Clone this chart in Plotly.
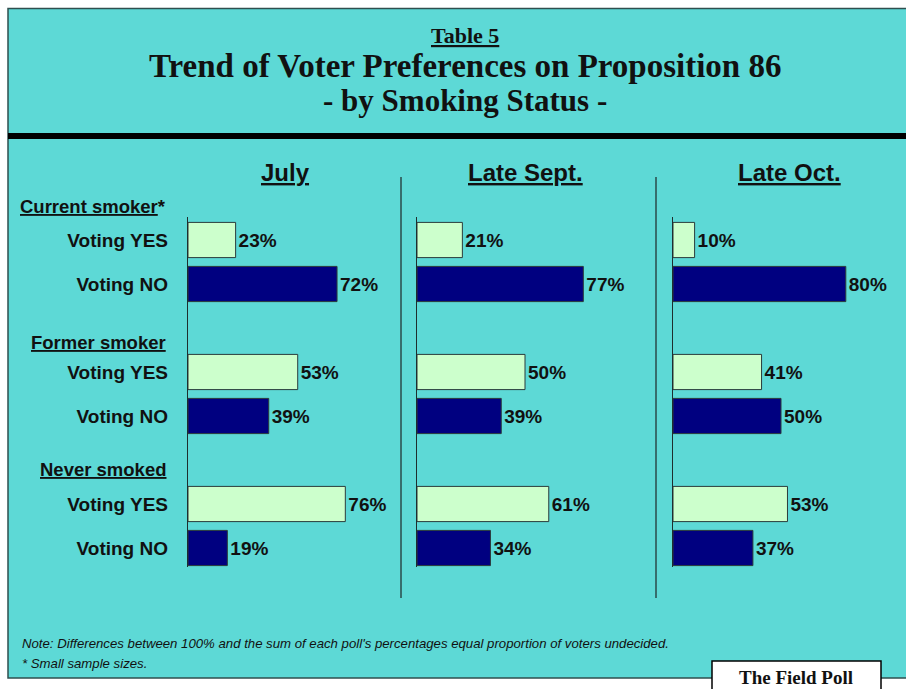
import plotly.graph_objects as go

# ---- data ----
polls = ["July", "Late Sept.", "Late Oct."]
groups = ["Current smoker", "Former smoker", "Never smoked"]
group_marks = ["*", "", ""]
answers = ["Voting YES", "Voting NO"]
yes_values = {
    "July": [23, 53, 76],
    "Late Sept.": [21, 50, 61],
    "Late Oct.": [10, 41, 53],
}
no_values = {
    "July": [72, 39, 19],
    "Late Sept.": [77, 39, 34],
    "Late Oct.": [80, 50, 37],
}

W, H = 906, 689
CYAN = "#5DD9D6"
YES_COLOR = "#CCFFCC"
NO_COLOR = "#000080"
SANS = "Liberation Sans, Arial, sans-serif"
SERIF = "Liberation Serif, Times New Roman, serif"


def px(x):
    return x / W


def py(y):
    return 1 - y / H


# slot positions: header, YES, NO for each group
yes_pos = [3 * g + 1 for g in range(len(groups))]
no_pos = [3 * g + 2 for g in range(len(groups))]
head_px = [206, 342, 469]

# panel domains in pixels (x start, x end)
panel_px = [(188, 395), (417, 633), (673, 889)]
y_dom = [py(567), py(217)]
y_rng = [(567 - 196) / 44.0, (217 - 196) / 44.0]

fig = go.Figure()
layout_axes = {}
for i, poll in enumerate(polls):
    suffix = "" if i == 0 else str(i + 1)
    xa, ya = "x" + suffix, "y" + suffix
    for vals, pos, col in ((yes_values[poll], yes_pos, YES_COLOR),
                           (no_values[poll], no_pos, NO_COLOR)):
        fig.add_trace(go.Bar(
            x=vals, y=pos, orientation="h", width=0.8,
            xaxis=xa, yaxis=ya,
            marker=dict(color=col, line=dict(color="#2b3b3b", width=1)),
            texttemplate="<b>%{x}%</b>", textposition="outside",
            textfont=dict(family=SANS, size=19, color="#111"),
            cliponaxis=False, showlegend=False, hoverinfo="skip",
        ))
    x0, x1 = panel_px[i]
    layout_axes["xaxis" + suffix] = dict(
        domain=[px(x0), px(x1)], range=[0, 100], visible=False,
        anchor=ya, fixedrange=True,
    )
    yax = dict(
        domain=y_dom, range=y_rng, anchor=xa, showgrid=False, zeroline=False,
        showline=True, linecolor="#1e2e2e", linewidth=1.2, ticks="",
        fixedrange=True,
    )
    if i == 0:
        tv, tt = [], []
        for g in range(len(groups)):
            tv += [yes_pos[g], no_pos[g]]
            tt += ["<b>%s</b>" % a for a in answers]
        yax.update(tickvals=tv, ticktext=tt, ticklabelstandoff=15,
                   tickfont=dict(family=SANS, size=19, color="#111"))
    else:
        yax.update(showticklabels=False)
    layout_axes["yaxis" + suffix] = yax

fig.update_layout(**layout_axes)

BORDER = dict(color="#2f4f4f", width=1.5)
shapes = [
    dict(type="rect", xref="paper", yref="paper", x0=px(8), x1=px(920),
         y0=py(678), y1=py(8.5), fillcolor=CYAN, line=BORDER, layer="below"),
    dict(type="rect", xref="paper", yref="paper", x0=px(8), x1=px(920),
         y0=py(139), y1=py(133), fillcolor="black", line=dict(width=0),
         layer="below"),
    dict(type="line", xref="paper", yref="paper", x0=px(401), x1=px(401),
         y0=py(598), y1=py(177), line=dict(color="#2a4a4a", width=1.5)),
    dict(type="line", xref="paper", yref="paper", x0=px(656), x1=px(656),
         y0=py(598), y1=py(177), line=dict(color="#2a4a4a", width=1.5)),
    dict(type="rect", xref="paper", yref="paper", x0=px(712), x1=px(881),
         y0=py(700), y1=py(661), fillcolor="white",
         line=dict(color="black", width=1.5)),
]

ann = []


def add_text(text, x, y, size, family, xanchor="center", color="#111"):
    ann.append(dict(text=text, x=px(x), y=py(y), xref="paper", yref="paper",
                    xanchor=xanchor, yanchor="middle", showarrow=False,
                    font=dict(family=family, size=size, color=color)))


add_text("<b><u>Table 5</u></b>", 465, 35, 22, SERIF)
add_text("<b>Trend of Voter Preferences on Proposition 86</b>", 465, 66, 33, SERIF)
add_text("<b>- by Smoking Status -</b>", 465, 101, 31, SERIF)

centers = [285, 525, 789]
for poll, cx in zip(polls, centers):
    add_text("<b><u>%s</u></b>" % poll, cx, 172, 24, SANS)

for g, name in enumerate(groups):
    add_text("<b><u>%s</u>%s</b>" % (name, group_marks[g]), 168, head_px[g],
             18.5, SANS, xanchor="right")

add_text("<i>Note: Differences between 100% and the sum of each poll's percentages "
         "equal proportion of voters undecided.</i>", 20, 643, 13.2, SANS,
         xanchor="left")
add_text("<i>* Small sample sizes.</i>", 20, 663, 13.2, SANS, xanchor="left")
add_text("<b>The Field Poll</b>", 796, 677, 19, SERIF)

fig.update_layout(
    width=W, height=H, margin=dict(l=0, r=0, t=0, b=0),
    paper_bgcolor="white", plot_bgcolor="rgba(0,0,0,0)",
    shapes=shapes, annotations=ann, barmode="overlay",
)

fig.write_html(
    "out.html",
    config={"displayModeBar": False, "staticPlot": True},
    post_script="document.body.style.margin='0';"
                "document.body.style.overflow='hidden';",
)
